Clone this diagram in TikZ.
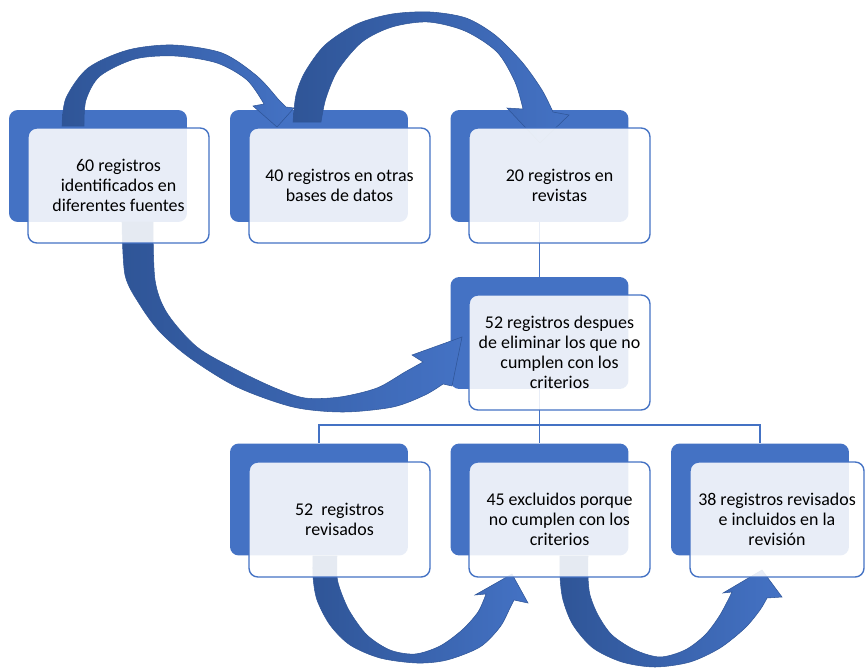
\documentclass[tikz,border=0pt]{standalone}
\usepackage{fontspec}
\setmainfont{Carlito}
\usetikzlibrary{calc}
\definecolor{boxblue}{HTML}{4472C4}
\definecolor{arrowdark}{HTML}{2F5597}

\begin{document}
\begin{tikzpicture}[x=0.02cm, y=-0.02cm,
    back/.style={rectangle, rounded corners=5pt, fill=boxblue, minimum width=3.56cm, minimum height=2.24cm, inner sep=0pt},
    front/.style={rectangle, rounded corners=5pt, draw=boxblue, line width=0.8pt, fill=white, fill opacity=0.88, text opacity=1,
      minimum width=3.62cm, minimum height=2.3cm, inner sep=0pt, align=center, font=\fontsize{10.2}{11.4}\selectfont},
    link/.style={draw=boxblue, line width=0.8pt},
    bigarrow/.style={left color=arrowdark, right color=boxblue, draw=arrowdark, line width=0.3pt}]
          \useasboundingbox (0,0) rectangle (865,669);

          % back boxes
          \node[back] (Ab) at (98,166) {};
          \node[back] (Bb) at (319,166) {};
          \node[back] (Cb) at (539.5,166) {};
          \node[back] (Db) at (539.5,333) {};
          \node[back] (Eb) at (319,499.5) {};
          \node[back] (Fb) at (539.5,499.5) {};
          \node[back] (Gb) at (760,499.5) {};

          % connectors
          \coordinate (split) at (539.5,425);
          \draw[link] (Cb.south) -- (Db.north);
          \draw[link] (Db.south) -- (split);
          \draw[link] (split) -| (Eb.north);
          \draw[link] (split) -- (Fb.north);
          \draw[link] (split) -| (Gb.north);

          % curved arrows
          \path[bigarrow] plot[smooth] coordinates {(62,126) (66,98) (88,68) (128,50) (173,45) (222,53) (257,76) (279,100) (286,107)}
            -- (294,108) -- (277,127) -- (253,106)
            -- plot[smooth] coordinates {(264,104) (247,80) (217,63) (175,56) (135,59) (100,76) (86,100) (84,126)} -- cycle;
          \path[bigarrow] plot[smooth] coordinates {(293,122) (296,95) (305,72) (325,45) (357,24) (392,14) (430,12) (466,18) (495,35) (522,62) (542,90) (553,112)}
            -- (569,115) -- (540,143) -- (507,108)
            -- plot[smooth] coordinates {(523,109) (515,82) (497,52) (465,31) (428,22) (392,27) (362,42) (338,70) (326,98) (321,122)} -- cycle;
          \path[bigarrow] plot[smooth] coordinates {(122,222) (125,275) (140,305) (160,332) (190,358) (237,387) (293,407) (343,412) (393,407) (425,395) (443,384)}
            -- (452,386) -- (462,337) -- (412,355)
            -- plot[smooth] coordinates {(423,362) (405,372) (377,388) (340,397) (305,398) (275,388) (237,370) (197,347) (167,313) (155,280) (153,222)} -- cycle;
          \path[bigarrow] plot[smooth] coordinates {(313,556) (313,577) (317,600) (330,625) (350,645) (380,658) (417,663) (447,660) (480,647) (500,627) (510,608) (514,600)}
            -- (528,603) -- (512,574) -- (475,595)
            -- plot[smooth] coordinates {(486,594) (478,612) (462,630) (440,646) (415,654) (390,650) (367,635) (350,612) (341,592) (337,577) (337,556)} -- cycle;
          \path[bigarrow] plot[smooth] coordinates {(560,556) (560,577) (563,600) (573,625) (593,648) (622,662) (655,667) (690,662) (720,648) (745,628) (760,610) (767,598)}
            -- (782,597) -- (762,570) -- (723,593)
            -- plot[smooth] coordinates {(732,592) (720,615) (705,635) (685,650) (660,657) (635,650) (612,635) (598,615) (590,595) (588,577) (588,556)} -- cycle;

          % front boxes
          \node[front] (A) at (118.5,185.5) {60 registros\\identificados en\\diferentes fuentes};
          \node[front] (B) at (339.5,185.5) {40 registros en otras\\bases de datos};
          \node[front] (C) at (559.5,185.5) {20 registros en\\revistas};
          \node[front] (D) at (559.5,352.5) {52 registros despues\\de eliminar los que no\\cumplen con los\\criterios};
          \node[front] (E) at (339.5,519.5) {52~ registros\\revisados};
          \node[front] (F) at (559.5,519.5) {45 excluidos porque\\no cumplen con los\\criterios};
          \node[front, minimum width=3.48cm] (G) at (777,519.5) {38 registros revisados\\e incluidos en la\\revisión};
\end{tikzpicture}
\end{document}
